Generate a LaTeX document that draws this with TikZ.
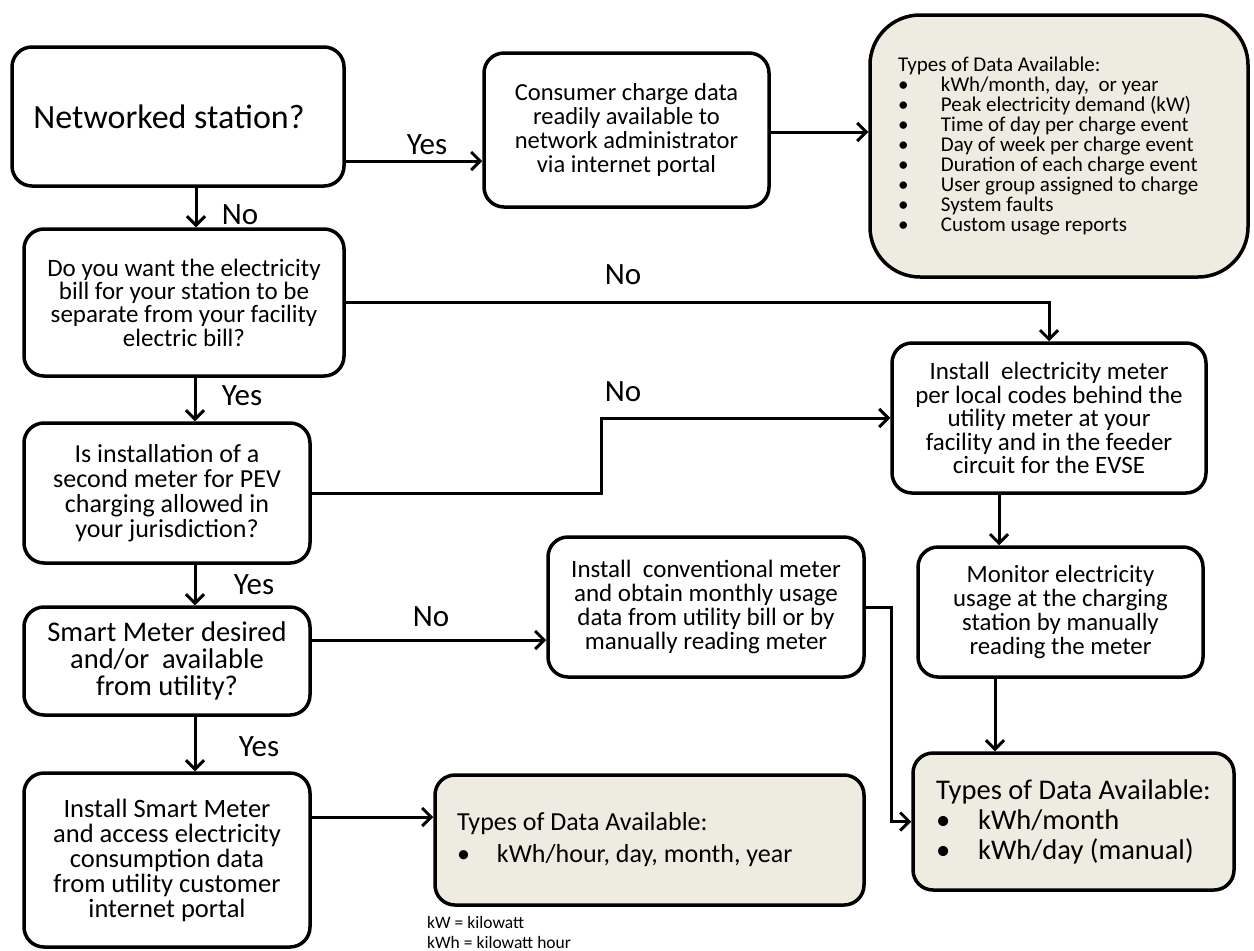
\documentclass[tikz,border=0pt]{standalone}
\usepackage{fontspec}
\setmainfont{Carlito}
\usetikzlibrary{arrows.meta,calc}
\definecolor{tanbg}{HTML}{EEECE1}
\newcommand{\fs}[2]{\fontsize{#1}{#2}\selectfont}
\newcommand{\bl}{\makebox[43pt][l]{\textbullet}}
\begin{document}
\begin{tikzpicture}[x=1pt,y=-1pt,
  box/.style={draw, line width=3.5pt, rounded corners=20pt, align=center, inner sep=0pt},
  databox/.style={box, fill=tanbg},
  arr/.style={line width=3pt, -{Straight Barb[length=9pt,width=18pt]}},
  lbl/.style={font=\fs{31}{31}, inner sep=0pt}]
\useasboundingbox (0,0) rectangle (1254,951);

\node[box, minimum width=332pt, minimum height=139pt, font=\fs{34}{40}] (net) at (178,116.5) {Networked station?\hspace*{18pt}};
\node[box, minimum width=285pt, minimum height=154pt, font=\fs{24.5}{24}] (cons) at (626.5,130)
  {Consumer charge data\\readily available to\\network administrator\\via internet portal};
\node[databox, rounded corners=50pt, minimum width=378pt, minimum height=262pt, text width=322pt, align=flush left, font=\fs{21}{20}] (d1) at (1059,146)
  {Types of Data Available:\\
   \bl kWh/month, day,\ \ or year\\
   \bl Peak electricity demand (kW)\\
   \bl Time of day per charge event\\
   \bl Day of week per charge event\\
   \bl Duration of each charge event\\
   \bl User group assigned to charge\\
   \bl System faults\\
   \bl Custom usage reports};
\node[box, minimum width=320pt, minimum height=147pt, font=\fs{25}{23.3}] (q2) at (184,302.5)
  {Do you want the electricity\\bill for your station to be\\separate from your facility\\electric bill?};
\node[box, minimum width=286pt, minimum height=140pt, font=\fs{26}{25}] (q3) at (167,493)
  {Is installation of a\\second meter for PEV\\charging allowed in\\your jurisdiction?};
\node[box, minimum width=286pt, minimum height=108pt, font=\fs{28.5}{27}] (q4) at (167,661)
  {Smart Meter desired\\and/or\ \ available\\from utility?};
\node[box, minimum width=286pt, minimum height=174pt, font=\fs{26.5}{25}] (q5) at (167,860)
  {Install Smart Meter\\and access electricity\\consumption data\\from utility customer\\internet portal};
\node[box, minimum width=314pt, minimum height=150pt, font=\fs{25}{23.5}] (elec) at (1049,418)
  {Install\ \ electricity meter\\per local codes behind the\\utility meter at your\\facility and in the feeder\\circuit for the EVSE};
\node[box, minimum width=316pt, minimum height=140pt, font=\fs{25}{24}] (conv) at (706,607)
  {Install\ \ conventional meter\\and obtain monthly usage\\data from utility bill or by\\manually reading meter};
\node[box, minimum width=285pt, minimum height=130pt, font=\fs{24.8}{24}] (mon) at (1060.5,612)
  {Monitor electricity\\usage at the charging\\station by manually\\reading the meter};
\node[databox, minimum width=429pt, minimum height=130pt, text width=385pt, align=flush left, font=\fs{26}{32}] (d2) at (649.5,840)
  {Types of Data Available:\\ \makebox[40pt][l]{\textbullet}kWh/hour, day, month, year};
\node[databox, minimum width=321pt, minimum height=137pt, align=flush left, font=\fs{28.5}{30}] (d3) at (1073.5,821.5)
  {Types of Data Available:\\ \makebox[42pt][l]{\textbullet}kWh/month\\ \makebox[42pt][l]{\textbullet}kWh/day (manual)};

\node[font=\fs{17.5}{20}, align=flush left, anchor=west, inner sep=0pt] (note) at (427,932) {kW = kilowatt\\kWh = kilowatt hour};

% connectors
\draw[arr] ([yshift=-44.5pt]net.east) -- ([yshift=-44.5pt]net.east -| cons.west);
\draw[arr] ([yshift=-2pt]cons.east) -- ([yshift=-2pt]cons.east -| d1.west);
\draw[arr] ([xshift=18pt]net.south) -- ([xshift=18pt]net.south |- q2.north);
\draw[arr] (q2.east) -| (elec.north);
\draw[arr] ([xshift=11pt]q2.south) -- ([xshift=11pt]q2.south |- q3.north);
\draw[arr] (q3.east) -- ++(290,0) |- (elec.west);
\draw[arr] ([xshift=28pt]q3.south) -- ([xshift=28pt]q3.south |- q4.north);
\draw[arr] ([yshift=21pt]q4.east) -- ([yshift=21pt]q4.east -| conv.west);
\draw[arr] ([xshift=28pt]q4.south) -- ([xshift=28pt]q4.south |- q5.north);
\draw[arr] ([yshift=43pt]q5.east) -- ([yshift=43pt]q5.east -| d2.west);
\draw[arr] ([xshift=-50pt]elec.south) -- ([xshift=-50pt]elec.south |- mon.north);
\draw[arr] (conv.east) -- ++(26,0) |- (d3.west);
\draw[arr] ([xshift=-65.5pt]mon.south) -- ([xshift=-65.5pt]mon.south |- d3.north);

% labels
\node[lbl] (l1) at (427,145) {Yes};
\node[lbl] (l2) at (240,215) {No};
\node[lbl] (l3) at (623,275) {No};
\node[lbl] (l4) at (242,396) {Yes};
\node[lbl] (l5) at (623,392) {No};
\node[lbl] (l6) at (254,585) {Yes};
\node[lbl] (l7) at (431,617) {No};
\node[lbl] (l8) at (259,747) {Yes};
\end{tikzpicture}
\end{document}
